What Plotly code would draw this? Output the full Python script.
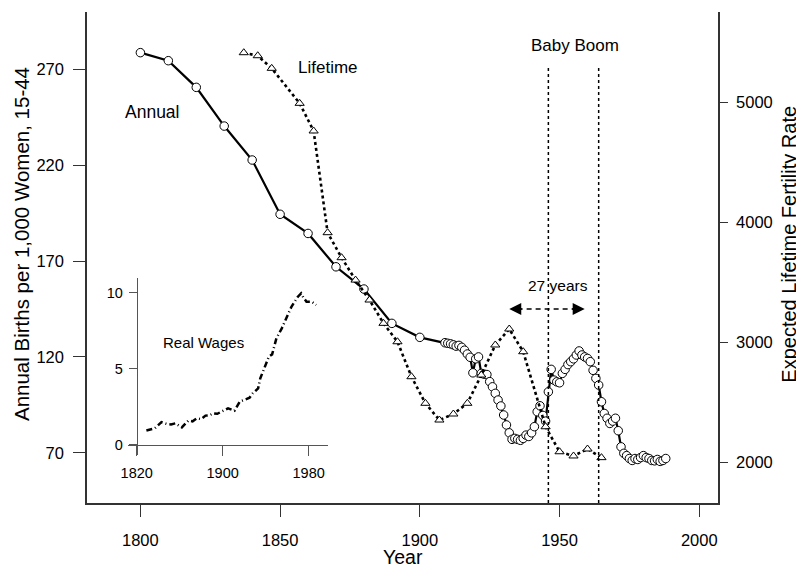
import plotly.graph_objects as go

# ---------------- data ----------------
annual_years = [1800, 1810, 1820, 1830, 1840, 1850, 1860, 1870, 1880, 1890, 1900,
                1909, 1910, 1911, 1912, 1913, 1914, 1915, 1916, 1917, 1918, 1919,
                1920, 1921, 1922, 1923, 1924, 1925, 1926, 1927, 1928, 1929, 1930,
                1931, 1932, 1933, 1934, 1935, 1936, 1937, 1938, 1939, 1940, 1941,
                1942, 1943, 1944, 1945, 1946, 1947, 1948, 1949, 1950, 1951, 1952,
                1953, 1954, 1955, 1956, 1957, 1958, 1959, 1960, 1961, 1962, 1963,
                1964, 1965, 1966, 1967, 1968, 1969, 1970, 1971, 1972, 1973, 1974,
                1975, 1976, 1977, 1978, 1979, 1980, 1981, 1982, 1983, 1984, 1985,
                1986, 1987, 1988]
annual_births = [278.7, 274.5, 260.6, 240.4, 222.7, 194.4, 184.4, 167.0, 155.4, 137.5, 130.2,
                 127.4, 127.1, 126.8, 126.3, 125.6, 126.0, 125.0, 123.5, 121.5, 119.8, 111.7,
                 119.0, 120.0, 111.4, 111.0, 110.8, 107.1, 104.4, 101.0, 97.5, 94.4, 89.7,
                 84.5, 80.4, 77.0, 77.5, 77.0, 76.5, 77.5, 79.2, 78.5, 80.4, 83.6,
                 91.4, 94.5, 89.5, 86.5, 101.8, 113.5, 107.9, 107.0, 106.5, 111.4, 113.5,
                 116.0, 117.5, 119.0, 121.0, 123.1, 121.0, 120.0, 119.2, 117.5, 113.0, 108.8,
                 105.3, 96.6, 90.5, 88.0, 85.3, 86.5, 88.0, 81.5, 73.1, 69.7, 68.5,
                 67.0, 66.0, 67.0, 66.5, 67.5, 68.5, 67.5, 67.0, 66.0, 65.8, 66.5,
                 65.5, 66.0, 67.0]

lifetime_years = [1837, 1842, 1847, 1857, 1862, 1867, 1872, 1877, 1882, 1887, 1892, 1897,
                  1902, 1907, 1912, 1917, 1922, 1927, 1932, 1937, 1945, 1950, 1955, 1960, 1965]
lifetime_rate = [5410, 5385, 5280, 4989, 4759, 3913, 3705, 3519, 3353, 3159, 3006, 2715,
                 2494, 2355, 2405, 2494, 2729, 2979, 3112, 2923, 2299, 2091, 2056, 2114, 2042]

wage_years = [1829, 1833, 1837, 1843, 1848, 1852, 1856, 1862, 1868, 1872, 1876, 1880, 1884,
              1888, 1891, 1895, 1899, 1905, 1909, 1911, 1916, 1922, 1925, 1928, 1933,
              1935, 1939, 1943, 1946, 1950, 1955, 1961, 1964, 1970, 1973, 1975, 1978,
              1983, 1987]
wage_index = [0.95, 1.05, 1.1, 1.5, 1.38, 1.35, 1.42, 1.15, 1.6, 1.55, 1.75, 1.7, 1.93,
              1.95, 2.08, 2.05, 2.19, 2.41, 2.3, 2.25, 2.85, 3.02, 3.1, 3.39, 3.72,
              4.38, 5.14, 5.8, 5.95, 7.0, 7.66, 8.65, 9.08, 9.74, 9.96, 9.7, 9.41,
              9.41, 9.19]

baby_boom_years = [1946, 1964]
gap_years = [1932, 1959]

left_ticks = [70, 120, 170, 220, 270]
right_ticks = [2000, 3000, 4000, 5000]
year_ticks = [1800, 1850, 1900, 1950, 2000]
inset_x_ticks = [1820, 1900, 1980]
inset_y_ticks = [0, 5, 10]

FONT = "Liberation Sans, Arial, sans-serif"
AX = "#333333"

fig = go.Figure()

fig.add_trace(go.Scatter(
    x=annual_years, y=annual_births, mode="lines+markers",
    line=dict(color="black", width=2.2),
    marker=dict(symbol="circle", size=8.5, color="white", line=dict(color="black", width=1)),
    xaxis="x", yaxis="y", showlegend=False))

fig.add_trace(go.Scatter(
    x=lifetime_years, y=lifetime_rate, mode="lines+markers",
    line=dict(color="black", width=2.6, dash="3px,3px"),
    marker=dict(symbol="triangle-up", size=8, color="white", line=dict(color="black", width=1)),
    xaxis="x", yaxis="y2", showlegend=False))

fig.add_trace(go.Scatter(
    x=wage_years, y=wage_index, mode="lines",
    line=dict(color="black", width=2.5, dash="6px,3px,1px,3px"),
    xaxis="x3", yaxis="y3", showlegend=False))

# baby boom verticals
for yr in baby_boom_years:
    fig.add_shape(type="line", xref="x", yref="y", x0=yr, x1=yr, y0=43.8, y1=272,
                  line=dict(color="black", width=1.5, dash="dot"))

# 27-year arrow
fig.add_shape(type="line", xref="x", yref="y", x0=gap_years[0] + 3, x1=gap_years[1] - 3,
              y0=145, y1=145, line=dict(color="black", width=1.6, dash="5px,4px"))
fig.add_annotation(x=gap_years[0], y=145, xref="x", yref="y", ax=14, ay=0, text="",
                   showarrow=True, arrowhead=2, arrowsize=1.6, arrowwidth=1.5, arrowcolor="black")
fig.add_annotation(x=gap_years[1], y=145, xref="x", yref="y", ax=-14, ay=0, text="",
                   showarrow=True, arrowhead=2, arrowsize=1.6, arrowwidth=1.5, arrowcolor="black")

def txt(x, y, s, size, xref="x", yref="y", angle=0):
    fig.add_annotation(x=x, y=y, xref=xref, yref=yref, text=s, showarrow=False,
                       textangle=angle, font=dict(family=FONT, size=size, color="black"),
                       xanchor="center", yanchor="middle")

txt(1804.4, 247.9, "Annual", 17.5)
txt(1867.2, 270.7, "Lifetime", 17)
txt(1955.5, 282.2, "Baby Boom", 17)
txt(1949.3, 157.5, "27 years", 15.5)
txt(1882.6, 6.7, "Real Wages", 15, xref="x3", yref="y3")

# axis titles
txt(-0.103, 0.5275, "Annual Births per 1,000 Women, 15-44", 20.5, xref="paper", yref="paper", angle=-90)
txt(1.112, 0.5275, "Expected Lifetime Fertility Rate", 20, xref="paper", yref="paper", angle=-90)
txt(0.5, -0.11, "Year", 19.5, xref="paper", yref="paper")

tickfont = dict(family=FONT, size=16.5, color="black")
insetfont = dict(family=FONT, size=14.5, color="black")

# page body has an 8px margin: figure is sized so the plot area lands where the reference has it
fig.update_layout(
    width=796, height=562,
    margin=dict(l=79, r=86, t=4, b=67),
    paper_bgcolor="white", plot_bgcolor="white",
    font=dict(family=FONT, color="black"),
    xaxis=dict(range=[1780.9, 2006.7], tickvals=year_ticks, ticks="outside", ticklen=12,
               tickwidth=1.2, tickcolor=AX, showline=True, linecolor=AX, linewidth=1.5,
               showgrid=False, zeroline=False, tickfont=tickfont, anchor="y",
               ticklabelstandoff=9),
    yaxis=dict(range=[43.8, 299.9], tickvals=left_ticks, ticks="outside", ticklen=12,
               tickwidth=1.2, tickcolor=AX, showline=True, linecolor=AX, linewidth=1.5,
               showgrid=False, zeroline=False, tickfont=tickfont, anchor="x",
               ticklabelstandoff=6),
    yaxis2=dict(range=[1664.8, 5748.6], tickvals=right_ticks, ticks="outside", ticklen=8,
                tickwidth=1.2, tickcolor=AX, showline=True, linecolor=AX, linewidth=1.5,
                showgrid=False, zeroline=False, tickfont=tickfont, overlaying="y",
                side="right", anchor="x", ticklabelstandoff=5),
    xaxis3=dict(domain=[0.065, 0.3819], range=[1811.9, 1998], tickvals=inset_x_ticks,
                ticks="outside", ticklen=10, tickwidth=1, tickcolor="#555", showline=True,
                linecolor="#555", linewidth=1, showgrid=False, zeroline=False,
                tickfont=insetfont, anchor="free", position=0.1181, ticklabelstandoff=5),
    yaxis3=dict(domain=[0.0978, 0.4582], range=[-0.657, 10.965], tickvals=inset_y_ticks,
                ticks="outside", ticklen=8, tickwidth=1, tickcolor="#555", showline=True,
                linecolor="#555", linewidth=1, showgrid=False, zeroline=False,
                tickfont=insetfont, anchor="free", position=0.0788, ticklabelstandoff=3),
)

fig.write_html("out.html")
